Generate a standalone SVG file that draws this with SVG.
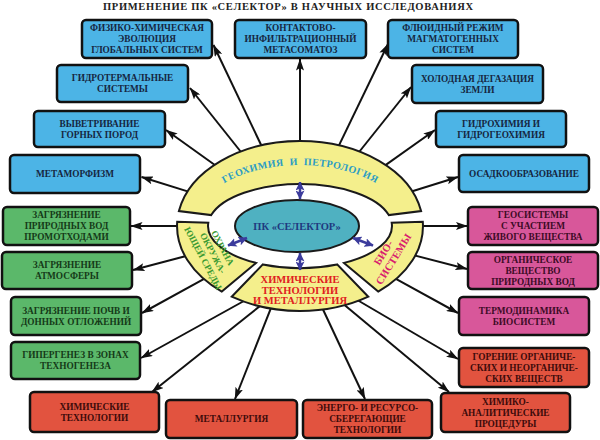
<svg xmlns="http://www.w3.org/2000/svg" width="600" height="440" viewBox="0 0 600 440">
<defs>
<style>
text{font-family:"Liberation Serif","Times New Roman",serif;font-weight:bold;}
.bx{stroke:#111;stroke-width:2.5;}
.b{fill:#4cb4e6;} .g{fill:#5bb86a;} .p{fill:#d8579a;} .r{fill:#e2533f;}
.t{font-size:9.3px;text-anchor:middle;}
.tb{fill:#16263f;} .tg{fill:#153a18;} .tp{fill:#3d0b26;} .tr{fill:#3d0b0b;}
.ln{stroke:#111;stroke-width:2;fill:none;marker-end:url(#ah);}
.seg{fill:#f4ef8c;stroke:#1a1a1a;stroke-width:2;}
.bl{stroke:#3b3b9c;stroke-width:2.5;fill:none;marker-start:url(#bh);marker-end:url(#bh);}
</style>
<marker id="ah" markerUnits="userSpaceOnUse" markerWidth="12" markerHeight="8" viewBox="0 0 12 8" refX="11.5" refY="4" orient="auto">
<path d="M0,0 L12,4 L0,8 L2.5,4 z" fill="#111"/>
</marker>
<marker id="bh" markerUnits="userSpaceOnUse" markerWidth="9" markerHeight="9" viewBox="0 0 9 9" refX="8.5" refY="4.5" orient="auto-start-reverse">
<path d="M0,0 L9,4.5 L0,9 L2,4.5 z" fill="#3b3b9c"/>
</marker>
<path id="arcGeo" d="M 192,228 A 108 63 0 0 1 408,228"/>
</defs>
<rect width="600" height="440" fill="#fff"/>
<text x="288" y="10" font-size="10.5" text-anchor="middle" fill="#222" textLength="370" lengthAdjust="spacing">ПРИМЕНЕНИЕ ПК «СЕЛЕКТОР» В НАУЧНЫХ ИССЛЕДОВАНИЯХ</text>

<g id="connectors">
<line class="ln" x1="263.4" y1="149.8" x2="213.5" y2="45"/>
<line class="ln" x1="300" y1="146" x2="300" y2="59"/>
<line class="ln" x1="336.8" y1="149.9" x2="388" y2="44"/>
<line class="ln" x1="243.8" y1="155.5" x2="190" y2="88"/>
<line class="ln" x1="356.3" y1="155.5" x2="411" y2="87"/>
<line class="ln" x1="218.7" y1="167.7" x2="166" y2="130"/>
<line class="ln" x1="381.6" y1="167.9" x2="435" y2="130"/>
<line class="ln" x1="192.4" y1="192.9" x2="141.5" y2="177"/>
<line class="ln" x1="407.5" y1="192.7" x2="458" y2="177"/>
<line class="ln" x1="182" y1="226" x2="131" y2="226"/>
<line class="ln" x1="418" y1="226" x2="467.5" y2="226"/>
<line class="ln" x1="189.9" y1="255" x2="133" y2="270"/>
<line class="ln" x1="410.4" y1="254.4" x2="467" y2="269"/>
<line class="ln" x1="208.2" y1="276.6" x2="142" y2="313"/>
<line class="ln" x1="391.8" y1="276.6" x2="458" y2="313"/>
<line class="ln" x1="248.4" y1="298.5" x2="141" y2="358"/>
<line class="ln" x1="354.7" y1="298.5" x2="458" y2="359"/>
<line class="ln" x1="263.9" y1="302.9" x2="152" y2="392"/>
<line class="ln" x1="272.8" y1="303.4" x2="235" y2="399"/>
<line class="ln" x1="320.9" y1="305" x2="365" y2="399"/>
<line class="ln" x1="340.6" y1="301.8" x2="449" y2="392"/>
</g>

<ellipse cx="300" cy="226" rx="123" ry="85" fill="#fff"/>

<g id="geochem">
<path class="seg" d="M178.9,211.1 A123 85 0 0 1 421.1,211.1 L388.8,215.1 A92 42 0 0 0 211.2,215.1 Z"/>
<text font-size="10" fill="#2b9cc4" letter-spacing="0.4" word-spacing="3"><textPath href="#arcGeo" startOffset="50%" text-anchor="middle">ГЕОХИМИЯ И ПЕТРОЛОГИЯ</textPath></text>
</g>
<g id="bio">
<path class="seg" d="M422.8,221.7 A123 85 0 0 1 378.2,291.6 L344,262.9 A92 42 0 0 0 391.7,222.8 Z"/>
<g transform="translate(388.5,256) rotate(-58)" font-size="10.5" fill="#d81c6e" text-anchor="middle">
<text x="0" y="-2.5">БИО-</text>
<text x="0" y="9.5">СИСТЕМЫ</text>
</g>
</g>
<g id="chemtech">
<path class="seg" d="M368.3,296.7 A123 85 0 0 1 231.7,296.7 L262.9,264.4 A92 42 0 0 0 337.1,264.4 Z"/>
<g font-size="10.5" fill="#e0201e" text-anchor="middle">
<text x="300" y="282.5">ХИМИЧЕСКИЕ</text>
<text x="300" y="293.5">ТЕХНОЛОГИИ</text>
<text x="300" y="304">И МЕТАЛЛУРГИЯ</text>
</g>
</g>
<g id="env">
<path class="seg" d="M221.8,291.6 A123 85 0 0 1 177.2,221.7 L208.3,222.8 A92 42 0 0 0 256,262.9 Z"/>
<g transform="translate(213,253) rotate(62)" font-size="9.2" fill="#3a9a32" text-anchor="middle">
<text x="0" y="-7.8">ОХРАНА</text>
<text x="0" y="3.2">ОКРУЖА-</text>
<text x="0" y="14.2">ЮЩЕЙ СРЕДЫ</text>
</g>
</g>

<g id="selector">
<ellipse cx="297" cy="226" rx="62" ry="26" fill="#4fb1c1" stroke="#1a1a1a" stroke-width="2"/>
<text x="297" y="230" font-size="10.5" text-anchor="middle" fill="#1f3a80">ПК «СЕЛЕКТОР»</text>
</g>

<g id="center-links">
<line class="bl" x1="300" y1="199" x2="300" y2="182"/>
<line class="bl" x1="300" y1="253" x2="300" y2="270"/>
<line class="bl" x1="247" y1="238" x2="228" y2="245.5"/>
<line class="bl" x1="353" y1="238" x2="373" y2="245.5"/>
</g>

<g id="n1"><rect class="bx b" x="82" y="20" width="130" height="38" rx="4"/><text class="t tb" x="147" y="31.2">ФИЗИКО-ХИМИЧЕСКАЯ</text><text class="t tb" x="147" y="42.2">ЭВОЛЮЦИЯ</text><text class="t tb" x="147" y="53.2">ГЛОБАЛЬНЫХ СИСТЕМ</text></g>
<g id="n2"><rect class="bx b" x="235" y="20" width="131" height="38" rx="4"/><text class="t tb" x="300.5" y="31.2">КОНТАКТОВО-</text><text class="t tb" x="300.5" y="42.2">ИНФИЛЬТРАЦИОННЫЙ</text><text class="t tb" x="300.5" y="53.2">МЕТАСОМАТОЗ</text></g>
<g id="n3"><rect class="bx b" x="388" y="20" width="130" height="38" rx="4"/><text class="t tb" x="453" y="31.2">ФЛЮИДНЫЙ РЕЖИМ</text><text class="t tb" x="453" y="42.2">МАГМАТОГЕННЫХ</text><text class="t tb" x="453" y="53.2">СИСТЕМ</text></g>
<g id="n4"><rect class="bx b" x="57" y="65" width="131" height="37" rx="4"/><text class="t tb" x="122.5" y="81.2">ГИДРОТЕРМАЛЬНЫЕ</text><text class="t tb" x="122.5" y="92.2">СИСТЕМЫ</text></g>
<g id="n5"><rect class="bx b" x="412" y="65" width="131" height="38" rx="4"/><text class="t tb" x="477.5" y="81.7">ХОЛОДНАЯ ДЕГАЗАЦИЯ</text><text class="t tb" x="477.5" y="92.7">ЗЕМЛИ</text></g>
<g id="n6"><rect class="bx b" x="34" y="111" width="131" height="36" rx="4"/><text class="t tb" x="99.5" y="126.7">ВЫВЕТРИВАНИЕ</text><text class="t tb" x="99.5" y="137.7">ГОРНЫХ ПОРОД</text></g>
<g id="n7"><rect class="bx b" x="436" y="111" width="130" height="36" rx="4"/><text class="t tb" x="501" y="126.7">ГИДРОХИМИЯ И</text><text class="t tb" x="501" y="137.7">ГИДРОГЕОХИМИЯ</text></g>
<g id="n8"><rect class="bx b" x="10" y="155" width="130" height="38" rx="4"/><text class="t tb" x="75" y="177.2">МЕТАМОРФИЗМ</text></g>
<g id="n9"><rect class="bx b" x="459" y="155" width="130" height="37" rx="4"/><text class="t tb" x="524" y="176.7">ОСАДКООБРАЗОВАНИЕ</text></g>
<g id="n10"><rect class="bx g" x="3" y="207" width="127" height="38" rx="4"/><text class="t tg" x="66.5" y="218.2">ЗАГРЯЗНЕНИЕ</text><text class="t tg" x="66.5" y="229.2">ПРИРОДНЫХ ВОД</text><text class="t tg" x="66.5" y="240.2">ПРОМОТХОДАМИ</text></g>
<g id="n11"><rect class="bx p" x="468" y="207" width="130" height="38" rx="4"/><text class="t tp" x="533" y="218.2">ГЕОСИСТЕМЫ</text><text class="t tp" x="533" y="229.2">С УЧАСТИЕМ</text><text class="t tp" x="533" y="240.2">ЖИВОГО ВЕЩЕСТВА</text></g>
<g id="n12"><rect class="bx g" x="2" y="252" width="130" height="37" rx="4"/><text class="t tg" x="67" y="268.2">ЗАГРЯЗНЕНИЕ</text><text class="t tg" x="67" y="279.2">АТМОСФЕРЫ</text></g>
<g id="n13"><rect class="bx p" x="468" y="252" width="130" height="37" rx="4"/><text class="t tp" x="533" y="262.7">ОРГАНИЧЕСКОЕ</text><text class="t tp" x="533" y="273.7">ВЕЩЕСТВО</text><text class="t tp" x="533" y="284.7">ПРИРОДНЫХ ВОД</text></g>
<g id="n14"><rect class="bx g" x="11" y="297" width="130" height="38" rx="4"/><text class="t tg" x="76" y="313.7">ЗАГРЯЗНЕНИЕ ПОЧВ И</text><text class="t tg" x="76" y="324.7">ДОННЫХ ОТЛОЖЕНИЙ</text></g>
<g id="n15"><rect class="bx p" x="459" y="297" width="130" height="38" rx="4"/><text class="t tp" x="524" y="313.7">ТЕРМОДИНАМИКА</text><text class="t tp" x="524" y="324.7">БИОСИСТЕМ</text></g>
<g id="n16"><rect class="bx g" x="11" y="342" width="129" height="37" rx="4"/><text class="t tg" x="75.5" y="358.2">ГИПЕРГЕНЕЗ В ЗОНАХ</text><text class="t tg" x="75.5" y="369.2">ТЕХНОГЕНЕЗА</text></g>
<g id="n17"><rect class="bx r" x="459" y="348" width="130" height="39" rx="4"/><text class="t tr" x="524" y="359.7">ГОРЕНИЕ ОРГАНИЧЕ-</text><text class="t tr" x="524" y="370.7">СКИХ И НЕОРГАНИЧЕ-</text><text class="t tr" x="524" y="381.7">СКИХ ВЕЩЕСТВ</text></g>
<g id="n18"><rect class="bx r" x="30" y="392" width="129" height="40" rx="4"/><text class="t tr" x="94.5" y="409.7">ХИМИЧЕСКИЕ</text><text class="t tr" x="94.5" y="420.7">ТЕХНОЛОГИИ</text></g>
<g id="n19"><rect class="bx r" x="166" y="400" width="131" height="38" rx="4"/><text class="t tr" x="231.5" y="422.2">МЕТАЛЛУРГИЯ</text></g>
<g id="n20"><rect class="bx r" x="303" y="400" width="129" height="38" rx="4"/><text class="t tr" x="367.5" y="411.2">ЭНЕРГО- И РЕСУРСО-</text><text class="t tr" x="367.5" y="422.2">СБЕРЕГАЮЩИЕ</text><text class="t tr" x="367.5" y="433.2">ТЕХНОЛОГИИ</text></g>
<g id="n21"><rect class="bx r" x="441" y="393" width="129" height="39" rx="4"/><text class="t tr" x="505.5" y="404.7">ХИМИКО-</text><text class="t tr" x="505.5" y="415.7">АНАЛИТИЧЕСКИЕ</text><text class="t tr" x="505.5" y="426.7">ПРОЦЕДУРЫ</text></g>
</svg>
